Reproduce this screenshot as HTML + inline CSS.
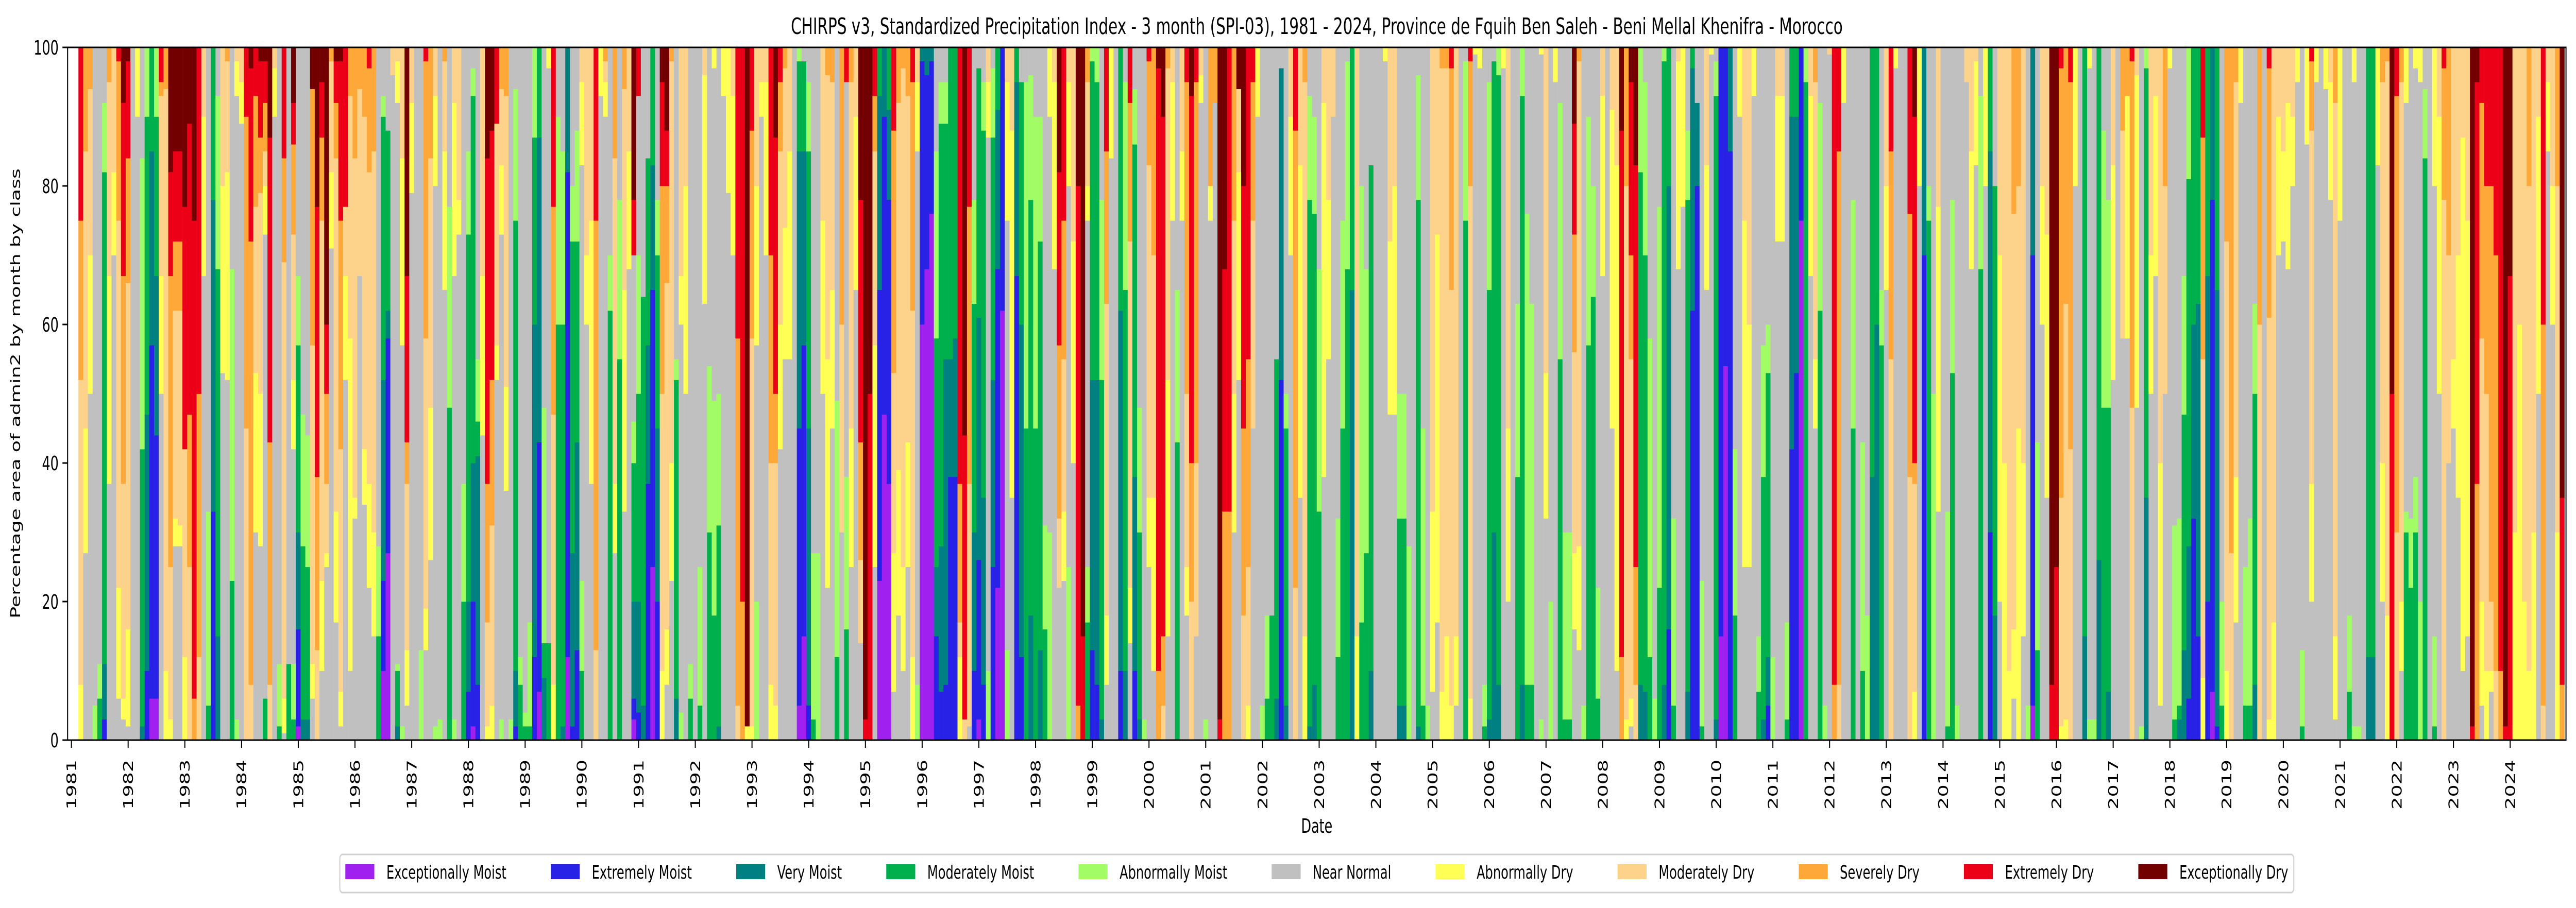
<!DOCTYPE html>
<html><head><meta charset="utf-8"><title>CHIRPS v3 SPI-03 Fquih Ben Saleh</title>
<style>
html,body{margin:0;padding:0;background:#fff;width:100%;height:100%;overflow:hidden;}
svg{display:block;font-family:"DejaVu Sans","Liberation Sans",sans-serif;width:100vw;height:100vh;}
</style></head>
<body>
<svg id="chart" viewBox="0 0 7467 1763" preserveAspectRatio="none" xmlns="http://www.w3.org/2000/svg">
<rect x="0" y="0" width="7467" height="1763" fill="#fff"/>
<text x="3817" y="66" font-size="44" text-anchor="middle" fill="#000">CHIRPS v3, Standardized Precipitation Index - 3 month (SPI-03), 1981 - 2024, Province de Fquih Ben Saleh - Beni Mellal Khenifra - Morocco</text>
<g id="bars"></g>
<g id="yaxis"></g>
<g id="xaxis"></g>
<rect x="196" y="92" width="7242" height="1345" fill="none" stroke="#000" stroke-width="3"/>
<text transform="translate(58,764) rotate(-90)" font-size="38" text-anchor="middle" fill="#000">Percentage area of admin2 by month by class</text>
<text x="3817" y="1617" font-size="38" text-anchor="middle" fill="#000">Date</text>
<g id="legend"></g>
</svg>
<script>
// ---- data ----
const classNames = ["Exceptionally Moist","Extremely Moist","Very Moist","Moderately Moist","Abnormally Moist","Near Normal","Abnormally Dry","Moderately Dry","Severely Dry","Extremely Dry","Exceptionally Dry"];
const classCodes = ["P","B","T","G","A","N","Y","M","S","R","X"];
const classColors = ["#a020f0","#2822e6","#008080","#00b04c","#a2fc66","#c0c0c0","#ffff55","#fdd38c","#ffa83a","#ec0018","#730000"];
const startYear = 1981;
const startMonth = 3;
const yTickValues = [0,20,40,60,80,100];
const xTickYears = [1981,1982,1983,1984,1985,1986,1987,1988,1989,1990,1991,1992,1993,1994,1995,1996,1997,1998,1999,2000,2001,2002,2003,2004,2005,2006,2007,2008,2009,2010,2011,2012,2013,2014,2015,2016,2017,2018,2019,2020,2021,2022,2023,2024];
// monthly class shares (% area); Near Normal = remainder
const monthlyShares = [
"Y8M44S23R25","Y18M40S15","Y20M24S6","A5","G6A5","B3T8G71A10","Y30M28S5","Y12M18","Y16M53S23R2","Y3M31S30R25X8",
"Y14M50S18R14X2","","Y10","T2G40A42","B10T37G43A10","P6B51T28G15","P6B38T23G23A10","Y17M26S2R5","Y10M84S6","Y3M22S42R15X18","Y4M30S10R13X15","Y3M31S10R13X15",
"Y12M30R35X23","M25S22R42X11","S6R69X25","M12S38R50","Y23M10","G5A28","B33T45G22","T15G53A25","Y27M20","Y30M16S2","G23A45","A3Y5M2",
"Y6M5","M45S45R10","M8S64R25X3","Y23M24S16R7","Y22M29S8R11X2","G6Y7M5S7R6X2","M8S35R44X13","Y7M3","G2A9","Y5M63S15R16","G11","G3A8Y10M21S13R6X8",
"P2B14T14G27A10","T3G25A19","T3G22A19","Y5M46S37X6","M13S25R39X23","Y13M52S12R8X5","Y2M10S13R10X40","Y11M16S2","Y16M51S8R6X2","Y5M35S33R23X2","Y15M10R23","Y48M35S7",
"Y3M49S16","M27S6","Y8M48S10","Y15M45S15R3","Y15M55S15","G15A13","P10B13T29G38A3","P27B31T4G26","M4","T2G8A1Y6M2","A2Y27M16","Y8M24S6R24X33",
"Y13M8","","A13","Y6M39S40R2","Y22M36S16","A2Y13M7","A3","Y20M13S2","G48A29","A3Y25M8","Y5M22","G20A17",
"B7T13G53A12","P2B18T20G53A4","B8T33G5A9","Y23M33","Y2M15S20R47X16","Y5M26S21R36X12","Y5M32R11","A3Y10M11S6","Y15M42S7","A3","B2T8G65A19","G8A4",
"G2A2","G2A15","B12T48G27A13","P7B36T44G13","T9G5A34","G14Y3","Y8M39S30R23","G60A30","T2G58A25","P12B70T18","B2T25G45A8","B13T30G29A16",
"G10A13Y12M5","Y10M30","Y38M25","M13S62R25","Y7","Y5M3S2","G62A8","Y10M47S16","G55A23","Y32M29S6","Y17M15","P3B3T14G20A6R8X22",
"B4T16G30A20R7","T5G59","B37T20G27","P25B40T18G17","B20T25G25A8","Y10M40S30R15X5","Y8M50S14R8X12","Y17M58S2","T6G46A3","A4Y7M33","Y30M20","G6A5",
"","G5A20","Y33M4","G30A24","G18A31Y3","T2G29A19","Y7","Y21","Y23M7","M5S53R42","S20R80","Y2X98",
"Y2M56S30R12","A20Y23M20","Y5M5","Y25M5","Y8M32S30R30","Y5M35S10R37X13","Y18M25S10R5","Y19M23S3","Y30M15","","P5B40T40G13A2","P15B42T28G13",
"B5T40G40A10","G3A24","A27","Y25M25","Y33M41S4","Y20M30S5","G12A37","M30S40","G16A22R5","Y20M50S5","Y25M10","M12S17R35X22",
"R3X97","R50X50","Y32M28S8R7","P23B42T28G7","P47B43T10","P37B41T13G9","Y20M26S35R12","Y21M53S8","Y15M72S3","Y18M50S7","Y12M50S33R5","A8Y10M5",
"P60B38T2","P68B28T4","P76B22T2","B15T10G33A27","B7T21G61A6","B8T47G34A6","B38T17G45","B38T20G42","Y12M5S20R63","M3R41X56","M35S40R23","B10T20G33A15",
"P3B23T35G36","B8T27G53A7","A10Y8M5","B25T27G35A10","P22B46T23G9","P62B38","A13Y20M5","Y53M12","B67T28G5","B12T48G35","G45A50","T18G60A18",
"G45A45","T13G59A18","G16A15","A30Y10","Y27M5","M10S25R25X18","Y10M22S20R25","A25Y15M5","Y32M28","S5R75X20","R15X85","G17A8Y5M15S5",
"B13T39G46A2","B8T44G43A5","T3G49A26","Y10M45S22R15","Y16","","B10T52G38","T10G55A30","Y8M50S20R8","B10T28G48A8","T3G27A18","A3",
"Y10M48S15R2","Y25M35S30","S10R87X3","M5S10R75X10","Y37M45S3","Y20M5","G43A22","Y10M15","Y7M25S45R5","M20S20R53X7","M25S55R5","Y4M4",
"A3","Y5S20","S8","R3X97","S33R35X32","S33R67","Y20M25S25","Y30M12X6","M18S27R35X20","Y5M20S30R45","M30S20R5","Y10",
"A5","G6A12","G18","T6G49","B52T45","T5G40A5","Y20M10","M22S66R12","Y48M17","Y15M80S5","T2G76A15","T8G68A14",
"G33A35","Y54M8","Y23M22","M10","G12A20","G45A30","G68A30","T65G35","Y15M85","G17A63","G27A41","T10G73",
"","","Y2","Y25M28","Y33M20","T5G27A18","T5G27A18","A28","","T2G76A18","G5A40","A5",
"Y26M67","Y56M27","Y7M90S3","Y15M82S3","Y5M60S32R3","Y10M85","","G75A23","Y6M74S18R2","Y1","Y3","G2A6",
"T3G62A30","T30G68","T8G88A4","Y3","Y25M55","","G38A25","T8G85A7","G8A68","G8A55","","A3Y1",
"Y21M47","A20","Y5","G55A37","G3A27","G3A27","Y11M29S17R16X11","Y15M70S2","A5","G57A33","G64A16","G6A16",
"Y26M7","","Y46M9","Y73M17","S12R76X12","Y3M77S20","Y4M49S15R25X5","M8S17R58X17","T8G74A18","T7G63A25","G12A46","A6",
"G22A55","T8G90A2","B16T64G20","G5A27","Y30M2","Y23","T7G71A10","B62T35G3","B80T12","G2A21","Y18M17","Y1",
"T3G90A5","P15B85","P54B46","B85T15","G18A24","Y10","Y50M25","Y35M40","Y7","G7A8","T3G35A19","B5T7G41A7",
"A12","Y21M7","Y21M7","G3A14","B42T48G10","B53T37G10","P75B25","G95A5","Y26M7","Y10M40S5","G62A30","A5",
"M1","S8R92","M8S77R15","Y8","","G45A33","","G10A33","A18","T38G62","T60G40","G57A8",
"Y15M20","M55S30R15","Y3","","","M38S38R24","Y7M30S3R50X10","Y20","B70T30","G75A5","A50","Y44M23",
"","G2A31","G53A25","A5","","M5","Y17M15","Y15M2","G68A25","Y20","B30T55G15","T18G62",
"Y50M30","Y40M60","Y10M90","Y10M60S24","Y45M35S20","Y25M60","A5","P5B65T30","G13A30","Y20M20","Y38M27","R8X92",
"R25X75","Y2M33S62R3","Y3M60S37","M42S53R5","Y20","","T15G85","A3Y3","A3","T26G74","G48A40","T7G41A30",
"Y31M17","","M30S12","Y35S7","M48S50R2","Y48M4","A2","T35G62A3","Y20M30","Y26M7","Y35M60","M30S20",
"Y3","G3A28","T3G2A27","T13G34A20","B6T22G53A19","B32T28G40","B15T48G37","Y9M46S32R13","B20T47G33","P7B71T22","B2T63G35","G5A15",
"Y10M62S28","M27S73","Y21M57S5","Y8","G5A20","G5A27","T8G42A13","M60S40","","Y3M58S36R3","Y17M83","Y20M10",
"Y13M15","Y24M8","Y10M10","Y5","G2A11","Y14","Y17M51S10R2","Y5","","Y6","Y17M5","Y12M77S8",
"Y25","","G7A11","A2Y5","A2","","T12G88","T12G88","Y17","Y20M55S5","Y18M80S2","R50X50",
"M30S63R7","Y10M75S5","G30A3Y8","G22A10","G30A8Y3","A20Y5","G84A10","","G2A13Y20","Y40M10","M78S19R3","M30S30",
"Y10M45","Y35M30","Y77M13","Y60M25","R2X98","S37R58X5","Y15M38S34R8","Y10M40S30R20","Y3M10S60R20","M10S60R30","S10R90","R2X98",
"R67X33","Y30M70","Y60M40","Y20M80","Y10M70S20","Y30M70","Y40M10","M5S55R40","Y10M5","Y20M20","Y30M50S20","S8R27X65"
];

// ---- axes ----
const NS = "http://www.w3.org/2000/svg";
const plotLeft = 196, plotRight = 7438, plotTop = 92, plotBottom = 1437;
const x0 = 207, pxPerYear = 164.4;
function xScale(monthsSinceStart) { return x0 + monthsSinceStart * pxPerYear / 12; }
function yScale(v) { return plotBottom - v * (plotBottom - plotTop) / 100; }
function parseShares(s) {
  const vals = classCodes.map(() => 0);
  const re = /([PBTGAYMSRX])(\d+)/g; let m; let sum = 0;
  while ((m = re.exec(s)) !== null) { const i = classCodes.indexOf(m[1]); vals[i] += +m[2]; sum += +m[2]; }
  if (sum > 100) { for (let i = 0; i < vals.length; i++) vals[i] = vals[i] * 100 / sum; sum = 100; }
  vals[5] = 100 - sum;
  return vals;
}
const barsG = document.getElementById('bars');
const barW = pxPerYear / 12 + 0.4;
monthlyShares.forEach((s, idx) => {
  const k = (startYear - 1981) * 12 + (startMonth - 1) + idx;
  const cx = xScale(k);
  const vals = parseShares(s);
  let acc = 0;
  vals.forEach((v, ci) => {
    if (v <= 0) return;
    const r = document.createElementNS(NS, 'rect');
    
    
    const yTop = yScale(acc + v), yBot = yScale(acc);
    r.setAttribute('x', (cx - barW / 2).toFixed(2));
    r.setAttribute('width', barW.toFixed(2));
    r.setAttribute('y', yTop.toFixed(2));
    r.setAttribute('height', (yBot - yTop + 0.3).toFixed(2));
    r.setAttribute('fill', classColors[ci]);
    barsG.appendChild(r);
    acc += v;
  });
});
// y axis
const yAx = document.getElementById('yaxis');
yTickValues.forEach(v => {
  const y = yScale(v);
  const l = document.createElementNS(NS, 'line');
  
  
  l.setAttribute('x1', plotLeft - 15); l.setAttribute('x2', plotLeft);
  l.setAttribute('y1', y); l.setAttribute('y2', y);
  l.setAttribute('stroke', '#000'); l.setAttribute('stroke-width', '3');
  yAx.appendChild(l);
  const t = document.createElementNS(NS, 'text');
  
  
  t.setAttribute('x', plotLeft - 26); t.setAttribute('y', y + 14);
  t.setAttribute('font-size', '38'); t.setAttribute('text-anchor', 'end');
  t.textContent = String(v);
  yAx.appendChild(t);
});
// x axis
const xAx = document.getElementById('xaxis');
xTickYears.forEach(yr => {
  const x = xScale((yr - 1981) * 12);
  const l = document.createElementNS(NS, 'line');
  
  
  l.setAttribute('x1', x); l.setAttribute('x2', x);
  l.setAttribute('y1', plotBottom); l.setAttribute('y2', plotBottom + 15);
  l.setAttribute('stroke', '#000'); l.setAttribute('stroke-width', '3');
  xAx.appendChild(l);
  const t = document.createElementNS(NS, 'text');
  
  
  t.setAttribute('transform', 'translate(' + (x + 14) + ',' + (plotBottom + 38) + ') rotate(-90)');
  t.setAttribute('font-size', '38'); t.setAttribute('text-anchor', 'end');
  t.textContent = String(yr);
  xAx.appendChild(t);
});
// legend
const lg = document.getElementById('legend');
const lgLeft = 985, lgRight = 6649, lgTop = 1659, lgBottom = 1733;
const box = document.createElementNS(NS, 'rect');


box.setAttribute('x', lgLeft); box.setAttribute('y', lgTop);
box.setAttribute('width', lgRight - lgLeft); box.setAttribute('height', lgBottom - lgTop);
box.setAttribute('rx', 8); box.setAttribute('fill', '#fff');
box.setAttribute('stroke', '#d0d0d0'); box.setAttribute('stroke-width', '3');
lg.appendChild(box);
const texts = [];
classNames.forEach((name, i) => {
  const t = document.createElementNS(NS, 'text');
  
  
  t.setAttribute('font-size', '36'); t.setAttribute('y', 1706);
  t.textContent = name;
  lg.appendChild(t);
  texts.push(t);
});
const widths = texts.map((t, i) => { const w = t.getComputedTextLength(); return (w > 0) ? w : classNames[i].length * 21; });
const handleW = 84, handlePad = 35, innerL = lgLeft + 16, innerR = lgRight - 16;
const used = widths.reduce((a, w) => a + handleW + handlePad + w, 0);
const gap = Math.max(20, (innerR - innerL - used) / (classNames.length - 1));
let cur = innerL;
classNames.forEach((name, i) => {
  const sw = document.createElementNS(NS, 'rect');
  
  
  sw.setAttribute('x', cur); sw.setAttribute('y', 1678);
  sw.setAttribute('width', handleW); sw.setAttribute('height', 29);
  sw.setAttribute('fill', classColors[i]);
  lg.appendChild(sw);
  texts[i].setAttribute('x', cur + handleW + handlePad);
  cur += handleW + handlePad + widths[i] + gap;
});
</script>
</body></html>
